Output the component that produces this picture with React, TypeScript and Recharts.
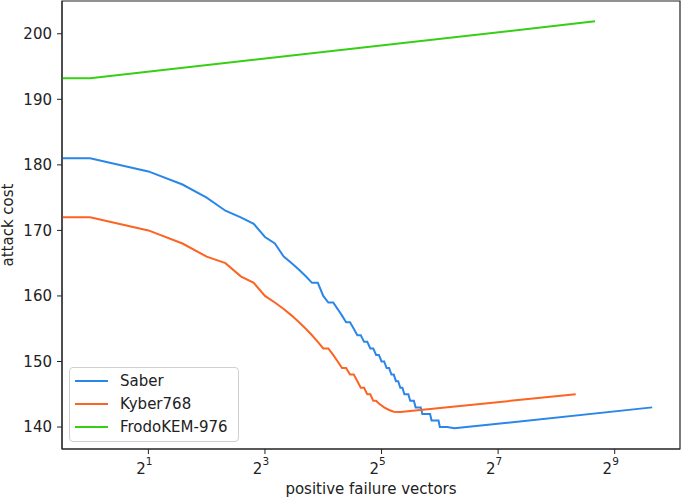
import { LineChart, Line, XAxis, YAxis, ReferenceArea } from "recharts";

// x = 0 cannot sit on a log axis; like matplotlib, it is drawn at the left edge
const X_MIN = 0.716;
const X_MAX = 1113;
const Y_MIN = 136.65;
const Y_MAX = 205;

const xTicks = [2, 8, 32, 128, 512];
const xTickExp = ["1", "3", "5", "7", "9"];
const yTicks = [140, 150, 160, 170, 180, 190, 200];

const saberX = [
  0, 1, 2, 3, 4, 5, 6, 7, 8, 9, 10, 11, 12, 13, 14, 15, 16, 17, 18, 19, 20, 21,
  22, 23, 24, 25, 26, 27, 28, 29, 30, 31, 32, 33, 34, 35, 36, 37, 38, 39, 40,
  41, 42, 44, 45, 47, 48, 51, 52, 57, 58, 63, 64, 70, 76, 800,
];
const saberY = [
  181, 181, 179, 177, 175, 173, 172, 171, 169, 168, 166, 165, 164, 163, 162,
  162, 160, 159, 159, 158, 157, 156, 156, 155, 154, 154, 153, 153, 152, 152,
  151, 151, 150, 150, 149, 149, 148, 148, 147, 147, 146, 146, 145, 145, 144,
  144, 143, 143, 142, 142, 141, 141, 140, 140, 139.8, 143,
];

const kyberX = [
  0, 1, 2, 3, 4, 5, 6, 7, 8, 9, 10, 11, 12, 13, 14, 15, 16, 17, 18, 19, 20, 21,
  22, 23, 24, 25, 26, 27, 28, 29, 30, 31, 33, 35, 37, 40, 322,
];
const kyberY = [
  172, 172, 170, 168, 166, 165, 163, 162, 160, 159, 158, 157, 156, 155, 154,
  153, 152, 152, 151, 150, 149, 149, 148, 148, 147, 146, 146, 145, 145, 144,
  144, 143.6, 143, 142.6, 142.35, 142.3, 145,
];

const frodoX = [0, 1, 405];
const frodoY = [193.2, 193.2, 201.9];

const series = [
  { name: "Saber", xs: saberX, ys: saberY, color: "#2a86e8" },
  { name: "Kyber768", xs: kyberX, ys: kyberY, color: "#fd6322" },
  { name: "FrodoKEM-976", xs: frodoX, ys: frodoY, color: "#35cf14" },
];

const toRows = (xs: number[], ys: number[]) =>
  xs.map((x, i) => ({ x: x === 0 ? X_MIN : x, y: ys[i] }));

const FONT = "'DejaVu Sans', sans-serif";

const PowTick = (props: any) => {
  const { x, y, index } = props;
  return (
    <text x={x} y={y} textAnchor="middle" fontFamily={FONT} fill="#222">
      <tspan x={x - 4} dy={18} fontSize={15}>2</tspan>
      <tspan dy={-9} fontSize={10.5}>{xTickExp[index]}</tspan>
    </text>
  );
};

const LegendBox = () => (
  <div
    style={{
      position: "absolute",
      left: 69,
      top: 367,
      width: 168,
      border: "1px solid #d0d0d0",
      borderRadius: 4,
      background: "rgba(255,255,255,0.85)",
      padding: "2px 0 3px 0",
      fontFamily: FONT,
      fontSize: 15,
      color: "#222",
    }}
  >
    {series.map((s) => (
      <div
        key={s.name}
        style={{ display: "flex", alignItems: "center", height: 22.7 }}
      >
        <span
          style={{
            display: "inline-block",
            width: 33,
            height: 2,
            marginLeft: 5,
            marginRight: 12,
            background: s.color,
          }}
        />
        <span>{s.name}</span>
      </div>
    ))}
  </div>
);

export default function App() {
  return (
    <div style={{ position: "relative", width: 685, height: 497 }}>
      <style>{`body{margin:0}`}</style>
      <LineChart
        width={685}
        height={497}
        margin={{ top: 1, right: 5, left: 0, bottom: 0 }}
      >
        <XAxis
          dataKey="x"
          type="number"
          scale="log"
          domain={[X_MIN, X_MAX]}
          allowDataOverflow
          ticks={xTicks}
          tick={<PowTick />}
          tickSize={5}
          height={48}
          stroke="#222"
          label={{
            value: "positive failure vectors",
            position: "insideBottom",
            offset: 3,
            fontSize: 15,
            fontFamily: FONT,
            fill: "#222",
          }}
        />
        <YAxis
          dataKey="y"
          type="number"
          domain={[Y_MIN, Y_MAX]}
          allowDataOverflow
          ticks={yTicks}
          width={62}
          tickSize={5}
          tickMargin={5}
          stroke="#222"
          tick={{ fontSize: 15, fontFamily: FONT, fill: "#222" }}
          label={{
            value: "attack cost",
            angle: -90,
            position: "insideLeft",
            offset: 8,
            fontSize: 15,
            fontFamily: FONT,
            fill: "#222",
            style: { textAnchor: "middle" },
          }}
        />
        <ReferenceArea
          x1={X_MIN}
          x2={X_MAX}
          y1={Y_MIN}
          y2={Y_MAX}
          fill="none"
          stroke="#222"
          strokeWidth={1.2}
          ifOverflow="visible"
        />
        {series.map((s) => (
          <Line
            key={s.name}
            data={toRows(s.xs, s.ys)}
            dataKey="y"
            name={s.name}
            stroke={s.color}
            strokeWidth={2}
            dot={false}
            isAnimationActive={false}
          />
        ))}
      </LineChart>
      <LegendBox />
    </div>
  );
}
